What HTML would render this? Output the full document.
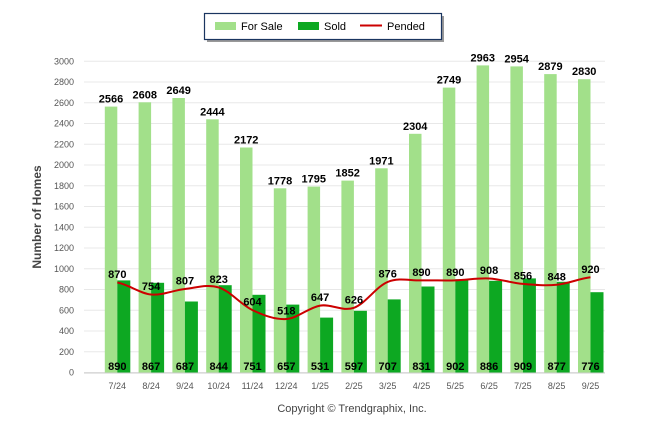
<!DOCTYPE html><html><head><style>body{margin:0;background:#fff}svg{display:block;font-family:"Liberation Sans",Arial,sans-serif}</style></head><body>
<svg width="646" height="434" viewBox="0 0 646 434">
<g stroke="#e8e8e8" stroke-width="1">
<line x1="84" x2="605" y1="372.5" y2="372.5"/><line x1="84" x2="605" y1="351.8" y2="351.8"/><line x1="84" x2="605" y1="331" y2="331"/><line x1="84" x2="605" y1="310.3" y2="310.3"/><line x1="84" x2="605" y1="289.5" y2="289.5"/><line x1="84" x2="605" y1="268.8" y2="268.8"/><line x1="84" x2="605" y1="248" y2="248"/><line x1="84" x2="605" y1="227.3" y2="227.3"/><line x1="84" x2="605" y1="206.5" y2="206.5"/><line x1="84" x2="605" y1="185.8" y2="185.8"/><line x1="84" x2="605" y1="165" y2="165"/><line x1="84" x2="605" y1="144.3" y2="144.3"/><line x1="84" x2="605" y1="123.5" y2="123.5"/><line x1="84" x2="605" y1="102.8" y2="102.8"/><line x1="84" x2="605" y1="82" y2="82"/><line x1="84" x2="605" y1="61.3" y2="61.3"/>
</g>
<g font-size="9" fill="#555" text-anchor="end">
<text x="74" y="375.5">0</text><text x="74" y="354.8">200</text><text x="74" y="334">400</text><text x="74" y="313.3">600</text><text x="74" y="292.5">800</text><text x="74" y="271.8">1000</text><text x="74" y="251">1200</text><text x="74" y="230.3">1400</text><text x="74" y="209.5">1600</text><text x="74" y="188.8">1800</text><text x="74" y="168">2000</text><text x="74" y="147.3">2200</text><text x="74" y="126.5">2400</text><text x="74" y="105.8">2600</text><text x="74" y="85">2800</text><text x="74" y="64.3">3000</text>
</g>
<text transform="translate(41,217) rotate(-90)" font-size="12" font-weight="bold" fill="#444" text-anchor="middle">Number of Homes</text>
<g fill="#a2e08a">
<rect x="104.8" y="106.6" width="12.5" height="266.1"/><rect x="138.6" y="102.3" width="12.5" height="270.4"/><rect x="172.4" y="98" width="12.5" height="274.7"/><rect x="206.2" y="119.3" width="12.5" height="253.4"/><rect x="240" y="147.5" width="12.5" height="225.2"/><rect x="273.8" y="188.3" width="12.5" height="184.4"/><rect x="307.6" y="186.6" width="12.5" height="186.1"/><rect x="341.4" y="180.6" width="12.5" height="192.1"/><rect x="375.2" y="168.3" width="12.5" height="204.4"/><rect x="409" y="133.8" width="12.5" height="238.9"/><rect x="442.8" y="87.6" width="12.5" height="285.1"/><rect x="476.6" y="65.4" width="12.5" height="307.3"/><rect x="510.4" y="66.4" width="12.5" height="306.3"/><rect x="544.2" y="74.1" width="12.5" height="298.6"/><rect x="578" y="79.2" width="12.5" height="293.5"/>
</g>
<g fill="#0da822">
<rect x="117.3" y="280.4" width="13" height="92.3"/><rect x="151.1" y="282.8" width="13" height="89.9"/><rect x="184.9" y="301.5" width="13" height="71.2"/><rect x="218.7" y="285.2" width="13" height="87.5"/><rect x="252.5" y="294.8" width="13" height="77.9"/><rect x="286.3" y="304.6" width="13" height="68.1"/><rect x="320.1" y="317.6" width="13" height="55.1"/><rect x="353.9" y="310.8" width="13" height="61.9"/><rect x="387.7" y="299.4" width="13" height="73.3"/><rect x="421.5" y="286.5" width="13" height="86.2"/><rect x="455.3" y="279.2" width="13" height="93.5"/><rect x="489.1" y="280.8" width="13" height="91.9"/><rect x="522.9" y="278.4" width="13" height="94.3"/><rect x="556.7" y="281.8" width="13" height="90.9"/><rect x="590.5" y="292.2" width="13" height="80.5"/>
</g>
<path d="M117.3,282.5 C128.6,284.5 139.8,293.4 151.1,294.5 C162.4,295.6 173.6,290.2 184.9,289.0 C196.2,287.8 207.4,283.9 218.7,287.4 C230.0,290.9 241.2,304.8 252.5,310.1 C263.8,315.4 275.0,319.8 286.3,319.0 C297.6,318.3 308.8,307.5 320.1,305.6 C331.4,303.7 342.6,311.8 353.9,307.8 C365.2,303.9 376.4,286.5 387.7,281.9 C399.0,277.3 410.2,280.7 421.5,280.4 C432.8,280.2 444.0,280.7 455.3,280.4 C466.6,280.1 477.8,277.9 489.1,278.5 C500.4,279.1 511.6,282.9 522.9,283.9 C534.2,284.9 545.4,285.9 556.7,284.8 C568.0,283.7 579.2,278.6 590.5,277.3" fill="none" stroke="#cc0000" stroke-width="2"/>
<line x1="84" x2="605" y1="373" y2="373" stroke="#ccc"/>
<g font-size="11" font-weight="bold" fill="#000" text-anchor="middle">
<text x="111" y="102.6">2566</text><text x="144.8" y="98.3">2608</text><text x="178.6" y="94">2649</text><text x="212.4" y="115.3">2444</text><text x="246.2" y="143.5">2172</text><text x="280" y="184.3">1778</text><text x="313.8" y="182.6">1795</text><text x="347.6" y="176.6">1852</text><text x="381.4" y="164.3">1971</text><text x="415.2" y="129.8">2304</text><text x="449" y="83.6">2749</text><text x="482.8" y="61.4">2963</text><text x="516.6" y="62.4">2954</text><text x="550.4" y="70.1">2879</text><text x="584.2" y="75.2">2830</text>
<text x="117.3" y="278">870</text><text x="151.1" y="290">754</text><text x="184.9" y="284.5">807</text><text x="218.7" y="283">823</text><text x="252.5" y="305.6">604</text><text x="286.3" y="314.5">518</text><text x="320.1" y="301">647</text><text x="353.9" y="303.3">626</text><text x="387.7" y="277.4">876</text><text x="421.5" y="276">890</text><text x="455.3" y="276">890</text><text x="489.1" y="274">908</text><text x="522.9" y="279.4">856</text><text x="556.7" y="280.3">848</text><text x="590.5" y="272.8">920</text>
<text x="117.3" y="370">890</text><text x="151.1" y="370">867</text><text x="184.9" y="370">687</text><text x="218.7" y="370">844</text><text x="252.5" y="370">751</text><text x="286.3" y="370">657</text><text x="320.1" y="370">531</text><text x="353.9" y="370">597</text><text x="387.7" y="370">707</text><text x="421.5" y="370">831</text><text x="455.3" y="370">902</text><text x="489.1" y="370">886</text><text x="522.9" y="370">909</text><text x="556.7" y="370">877</text><text x="590.5" y="370">776</text>
</g>
<g font-size="9" fill="#555" text-anchor="middle">
<text x="117.3" y="389">7/24</text><text x="151.1" y="389">8/24</text><text x="184.9" y="389">9/24</text><text x="218.7" y="389">10/24</text><text x="252.5" y="389">11/24</text><text x="286.3" y="389">12/24</text><text x="320.1" y="389">1/25</text><text x="353.9" y="389">2/25</text><text x="387.7" y="389">3/25</text><text x="421.5" y="389">4/25</text><text x="455.3" y="389">5/25</text><text x="489.1" y="389">6/25</text><text x="522.9" y="389">7/25</text><text x="556.7" y="389">8/25</text><text x="590.5" y="389">9/25</text>
</g>
<text x="352" y="412" font-size="11" fill="#444" text-anchor="middle">Copyright © Trendgraphix, Inc.</text>
<rect x="207" y="16" width="237" height="26" fill="#999"/>
<rect x="204.5" y="13.5" width="237" height="26" fill="#fff" stroke="#1a3560" stroke-width="1.2"/>
<rect x="215" y="22" width="21" height="8" fill="#a2e08a"/>
<text x="241" y="30" font-size="11" fill="#000">For Sale</text>
<rect x="298" y="22" width="21" height="8" fill="#0da822"/>
<text x="324" y="30" font-size="11" fill="#000">Sold</text>
<line x1="360" x2="382" y1="25.5" y2="25.5" stroke="#cc0000" stroke-width="2"/>
<text x="387" y="30" font-size="11" fill="#000">Pended</text>
</svg>
</body></html>
